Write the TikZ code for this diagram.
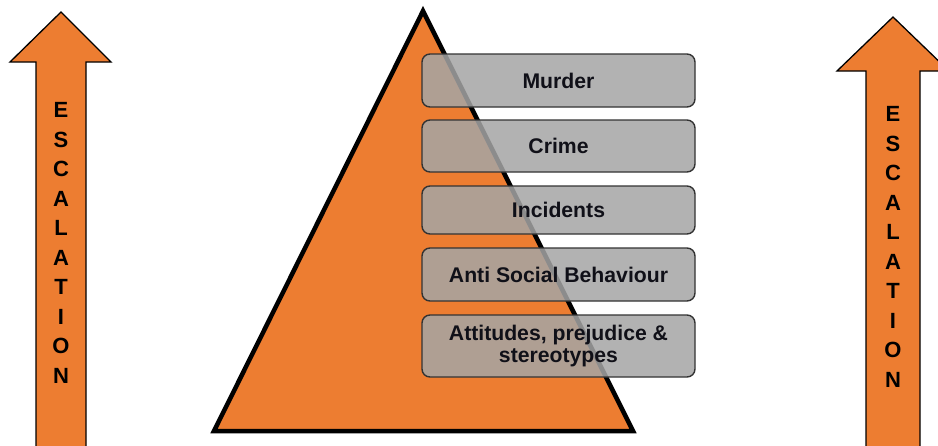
\documentclass[tikz,border=0pt]{standalone}
\usepackage{fontspec}
\setmainfont{Liberation Sans}
\definecolor{orng}{HTML}{ED7D31}
\definecolor{boxgray}{HTML}{A5A5A5}
\definecolor{txt}{HTML}{101018}
\begin{document}
\begin{tikzpicture}[x=1pt,y=-1pt,
  uparrow/.style={fill=orng,draw=black,line width=1.3pt,line join=miter},
  pyramid/.style={fill=orng,draw=black,line width=4.5pt,line join=miter},
  levelbox/.style={draw=black!80,line width=1.4pt,rounded corners=8pt,fill=boxgray,fill opacity=0.85,text opacity=1,
    minimum width=273pt,inner sep=0pt,align=center,font=\fontsize{21.2}{21.5}\selectfont\bfseries,text=txt},
  vlabel/.style={align=center,inner sep=0pt,font=\fontsize{22}{29.5}\selectfont\bfseries,text=black}]
\useasboundingbox (0,0) rectangle (938,445);
% left arrow
\draw[uparrow] (36,460) -- (36,62) -- (10,62) -- (61,12) -- (111,62) -- (86,62) -- (86,460) -- cycle;
\node[vlabel] (lefttext) at (61,243) {E\\S\\C\\A\\L\\A\\T\\I\\O\\N};
% right arrow
\draw[uparrow] (866,460) -- (866,71) -- (837,71) -- (893,17) -- (949,71) -- (920,71) -- (920,460) -- cycle;
\node[vlabel] (righttext) at (893,247) {E\\S\\C\\A\\L\\A\\T\\I\\O\\N};
% pyramid
\draw[pyramid] (423,11) -- (633,431) -- (214,431) -- cycle;
% level boxes
\node[levelbox,minimum height=53pt] (murder) at (558.5,80.5) {Murder};
\node[levelbox,minimum height=52pt] (crime) at (558.5,146) {Crime};
\node[levelbox,minimum height=48pt] (incidents) at (558.5,210) {Incidents};
\node[levelbox,minimum height=53pt] (asb) at (558.5,274.5) {Anti Social Behaviour};
\node[levelbox,minimum height=62pt] (attitudes) at (558.5,346) {Attitudes, prejudice \&\\stereotypes};
\end{tikzpicture}
\end{document}
